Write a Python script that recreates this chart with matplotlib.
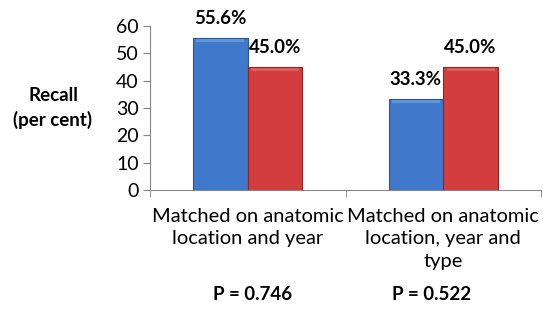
import numpy as np
import matplotlib.pyplot as plt
from matplotlib.ticker import FixedLocator

categories = ['Matched on anatomic\nlocation and year', 'Matched on anatomic\nlocation, year and\ntype']
blue_vals = [55.6, 33.3]
red_vals = [45.0, 45.0]
p_labels = ['P = 0.746', 'P = 0.522']

plt.rcParams['font.family'] = ['Lato', 'DejaVu Sans']

fig = plt.figure(figsize=(5.43, 3.14), dpi=100)
ax = fig.add_axes([150/543, 1 - 190/314, 391/543, 164/314])

x = np.arange(len(categories))
w = 0.28
b1 = ax.bar(x - w/2, blue_vals, w, color='#4079cc', edgecolor='#2c5692', linewidth=0.8)
b2 = ax.bar(x + w/2, red_vals, w, color='#d33d3d', edgecolor='#8e2424', linewidth=0.8)

# soft bevel on top of each bar
for bars, c in ((b1, '#5f95dd'), (b2, '#e05a5a')):
    for r in bars:
        ax.bar(r.get_x() + r.get_width()/2, 1.3, r.get_width()*0.88,
               bottom=r.get_height() - 1.5, color=c, linewidth=0)

for bars, vals in ((b1, blue_vals), (b2, red_vals)):
    for r, v in zip(bars, vals):
        ax.text(r.get_x() + r.get_width()/2, v + 4.0, f'{v:.1f}%',
                ha='center', va='bottom', fontsize=13.5, fontweight='bold')

ax.set_ylim(0, 60)
ax.set_xlim(-0.5, 1.5)
ax.set_yticks(range(0, 61, 10))
ax.set_xticks(x)
ax.set_xticklabels(categories, fontsize=14.5, linespacing=1.38)
ax.xaxis.set_minor_locator(FixedLocator([-0.5, 0.5, 1.5]))
ax.tick_params(axis='x', which='major', length=0, pad=13)
ax.tick_params(axis='x', which='minor', length=5, color='#868686', direction='out')
ax.tick_params(axis='y', labelsize=14, length=5, color='#868686', pad=3)

for s in ('top', 'right'):
    ax.spines[s].set_visible(False)
for s in ('left', 'bottom'):
    ax.spines[s].set_color('#868686')

ax.set_ylabel('Recall\n(per cent)', fontsize=13.5, fontweight='bold',
              rotation=0, ha='center', va='center', labelpad=0, linespacing=1.45)
ax.yaxis.set_label_coords(-97/391, 0.5)

fig.text(253/543, 1 - 294/314, p_labels[0], ha='center', va='center',
         fontsize=13.5, fontweight='bold')
fig.text(432/543, 1 - 294/314, p_labels[1], ha='center', va='center',
         fontsize=13.5, fontweight='bold')

fig.savefig('out.png', dpi=100)
